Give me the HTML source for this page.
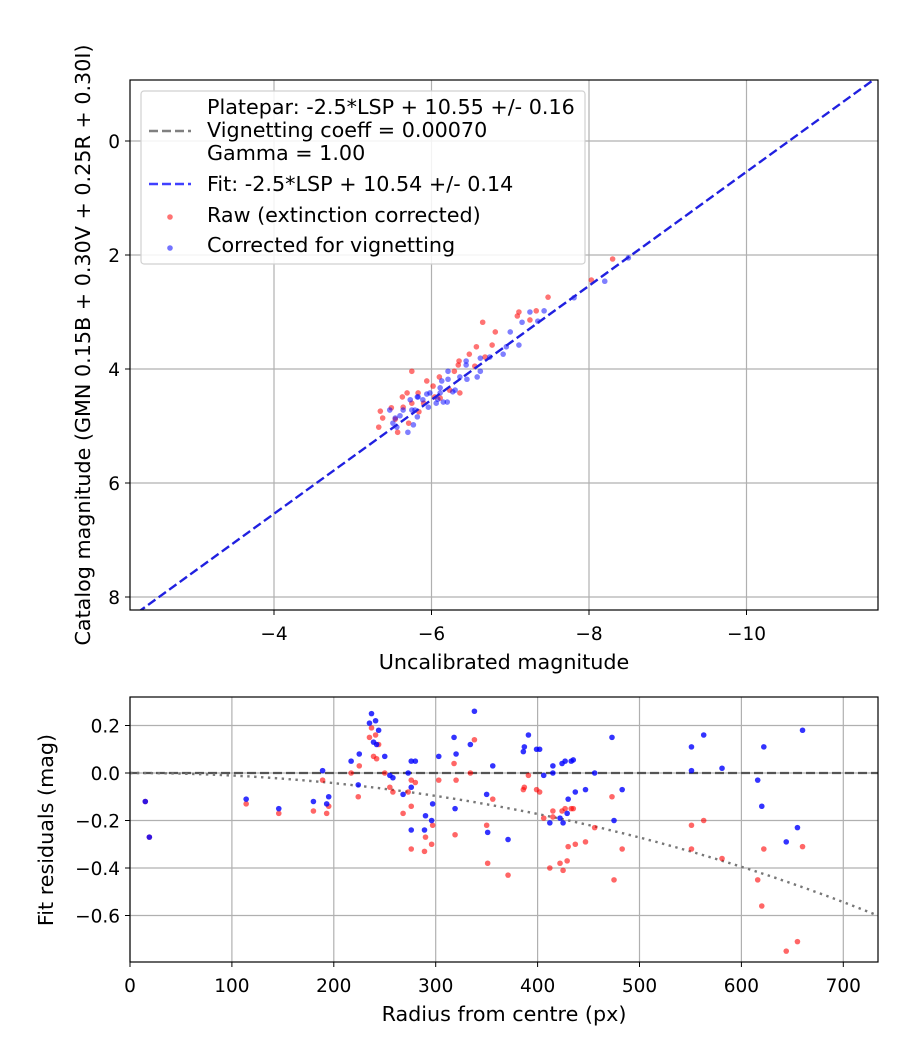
<!DOCTYPE html>
<html><head><meta charset="utf-8"><style>
body{margin:0;background:#fff}
svg{display:block;font-family:"DejaVu Sans","Liberation Sans",sans-serif}
</style></head><body>
<svg id="c" width="900" height="1050" viewBox="0 0 900 1050" xmlns="http://www.w3.org/2000/svg"></svg>
<script>
// ---- Top chart data ----
const topXTicks=[-4,-6,-8,-10];
const topYTicks=[0,2,4,6,8];
const fitOffset=10.54;
const rawX=[-8.30,-8.03,-7.48,-7.11,-7.09,-7.33,-7.25,-6.65,-6.81,-6.77,-6.57,-6.48,-6.35,-6.34,-6.55,-6.68,-6.29,-5.75,-5.94,-6.10,-5.63,-5.49,-5.35,-5.38,-5.33,-5.57,-5.71,-5.83,-6.02,-6.11,-6.23,-6.36,-5.54,-5.84,-5.75,-5.64,-6.04,-5.90,-5.69];
const rawY=[2.07,2.44,2.74,3.00,3.07,2.98,3.14,3.18,3.35,3.58,3.61,3.74,3.86,3.93,3.95,3.79,4.04,4.04,4.21,4.14,4.49,4.68,4.74,4.86,5.02,5.11,4.95,4.42,4.30,4.51,4.37,4.42,4.88,4.75,4.60,4.67,4.49,4.60,4.42];
const corX=[-8.50,-8.20,-7.81,-7.43,-7.25,-7.15,-7.35,-7.00,-7.11,-6.95,-6.91,-6.74,-6.62,-6.44,-6.44,-6.62,-6.58,-6.45,-6.36,-6.21,-6.21,-6.30,-6.13,-6.11,-6.20,-6.06,-5.94,-5.82,-5.73,-5.75,-5.64,-5.60,-5.77,-5.70,-5.54,-5.51,-5.96,-5.89,-6.08,-6.15,-6.27,-6.11,-5.79,-5.82,-5.47,-5.56,-5.98,-5.83];
const corY=[2.05,2.46,2.75,2.98,3.00,3.18,3.16,3.35,3.58,3.61,3.74,3.79,3.81,3.86,3.93,4.04,4.14,4.18,4.14,4.04,4.18,4.37,4.21,4.42,4.58,4.60,4.44,4.49,4.54,4.72,4.72,4.82,4.98,5.11,4.86,4.95,4.67,4.54,4.53,4.58,4.40,4.33,4.72,4.84,4.72,5.02,4.42,4.49];
// ---- Bottom chart data ----
const botXTicks=[0,100,200,300,400,500,600,700];
const botYTicks=[0.2,0.0,-0.2,-0.4,-0.6];
const botYLabels=["0.2","0.0","\u22120.2","\u22120.4","\u22120.6"];
const vignCoeff=0.0007;
const blueR=[15,19,114,146,180,189,195,193,217,225,224,237,235,241,244,239,242,250,255,258,273,276,280,276,268,276,289,290,296,297,303,319,318,320,334,338,356,350,351,371,391,387,386,399,402,406,415,415,424,427,433,435,430,437,447,456,412,422,425,429,473,483,475,551,563,551,581,616,620,622,644,655,660];
const blueRes=[-0.12,-0.27,-0.11,-0.15,-0.12,0.01,-0.10,-0.13,0.05,0.08,-0.05,0.25,0.21,0.22,0.18,0.13,0.12,0.07,-0.01,-0.02,0.00,0.05,0.05,-0.06,-0.09,-0.24,-0.24,-0.18,-0.20,-0.13,0.07,-0.15,0.15,0.08,0.12,0.26,0.03,-0.09,-0.25,-0.28,0.16,0.11,0.09,0.10,0.10,-0.01,0.03,0.00,0.04,0.05,0.05,0.055,-0.11,-0.08,-0.07,0.00,-0.21,-0.19,-0.21,-0.17,0.15,-0.07,-0.20,0.11,0.16,0.01,0.02,-0.03,-0.14,0.11,-0.29,-0.23,0.18];
const redR=[15,19,114,146,180,193,195,189,217,225,224,237,235,241,244,239,242,250,255,258,268,273,276,280,276,276,289,290,296,297,303,319,318,320,334,338,356,350,351,371,391,387,386,399,402,406,415,415,424,427,433,435,430,437,447,456,412,422,425,429,473,483,475,551,563,551,581,616,620,622,644,655,660];
const redRes=[-0.12,-0.27,-0.13,-0.17,-0.16,-0.17,-0.14,-0.03,0.00,0.03,-0.10,0.19,0.15,0.16,0.12,0.07,0.06,0.00,-0.06,-0.08,-0.17,-0.08,-0.03,-0.04,-0.14,-0.32,-0.33,-0.27,-0.30,-0.22,-0.03,-0.26,0.04,-0.03,0.00,0.14,-0.11,-0.22,-0.38,-0.43,-0.01,-0.06,-0.07,-0.07,-0.08,-0.19,-0.16,-0.185,-0.16,-0.15,-0.15,-0.15,-0.31,-0.30,-0.29,-0.23,-0.40,-0.38,-0.41,-0.37,-0.10,-0.32,-0.45,-0.22,-0.20,-0.32,-0.36,-0.45,-0.56,-0.32,-0.75,-0.71,-0.31];

const NS="http://www.w3.org/2000/svg";
const svg=document.getElementById('c');
function mk(tag,attrs,parent,text){const e=document.createElementNS(NS,tag);for(const k in attrs)e.setAttribute(k,attrs[k]);if(text!==undefined)e.textContent=text;(parent||svg).appendChild(e);return e;}

const T={l:130,r:878,t:80,b:610};
const tx=v=>274+(-4-v)*78.75;
const ty=v=>141+v*57;
const B={l:130,r:878,t:697,b:962};
const bx=v=>130+v*1.019;
const by=v=>773-v*237.5;
const TFS=18.5, LFS=20.7;

let defs=mk('defs',{});
let cp=mk('clipPath',{id:'cpT'},defs);mk('rect',{x:T.l,y:T.t,width:T.r-T.l,height:T.b-T.t},cp);
let cp2=mk('clipPath',{id:'cpB'},defs);mk('rect',{x:B.l,y:B.t,width:B.r-B.l,height:B.b-B.t},cp2);

let g=mk('g',{});


topXTicks.forEach(v=>{const x=tx(v);
 mk('line',{x1:x,y1:T.t,x2:x,y2:T.b,stroke:'#b0b0b0','stroke-width':1.2},g);
 mk('line',{x1:x,y1:T.b,x2:x,y2:T.b+5,stroke:'#000','stroke-width':1},g);
 const t=mk('text',{x:x,y:T.b+30,'text-anchor':'middle','font-size':TFS},svg,String(v).replace('-','\u2212'));
 
 
});
topYTicks.forEach(v=>{const y=ty(v);
 mk('line',{x1:T.l,y1:y,x2:T.r,y2:y,stroke:'#b0b0b0','stroke-width':1.2},g);
 mk('line',{x1:T.l-5,y1:y,x2:T.l,y2:y,stroke:'#000','stroke-width':1},g);
 const t=mk('text',{x:T.l-10,y:y+7,'text-anchor':'end','font-size':TFS},svg,String(v));
 
 
});
let gp=mk('g',{'clip-path':'url(#cpT)'});
rawX.forEach((v,i)=>{const c=mk('circle',{cx:tx(v),cy:ty(rawY[i]),r:2.8,fill:'#ff0000','fill-opacity':0.55},gp);
 
 });
corX.forEach((v,i)=>{const c=mk('circle',{cx:tx(v),cy:ty(corY[i]),r:2.8,fill:'#0000ff','fill-opacity':0.5},gp);
 
 });
const fx1=-2.0,fx2=-12.0;
const fl=mk('line',{x1:tx(fx1),y1:ty(fx1+fitOffset),x2:tx(fx2),y2:ty(fx2+fitOffset),stroke:'#2020e0','stroke-width':2.4,'stroke-dasharray':'9,4','clip-path':'url(#cpT)'});


const fr=mk('rect',{x:T.l,y:T.t,width:T.r-T.l,height:T.b-T.t,fill:'none',stroke:'#000','stroke-width':1.2});



const lg=mk('g',{});


mk('rect',{x:141,y:91,width:444,height:173,rx:3,fill:'#fff','fill-opacity':0.85,stroke:'#d0d0d0','stroke-width':1.2},lg);
const lt=[['Platepar: -2.5*LSP + 10.55 +/- 0.16',114],['Vignetting coeff = 0.00070',137],['Gamma = 1.00',160],['Fit: -2.5*LSP + 10.54 +/- 0.14',191],['Raw (extinction corrected)',222],['Corrected for vignetting',252]];
lt.forEach(a=>{const t=mk('text',{x:207,y:a[1],'font-size':LFS},lg,a[0]);
 
 });
mk('line',{x1:149,y1:131,x2:191,y2:131,stroke:'#808080','stroke-width':2.4,'stroke-dasharray':'9,4'},lg);
mk('line',{x1:149,y1:184,x2:191,y2:184,stroke:'#4040ff','stroke-width':2.4,'stroke-dasharray':'9,4'},lg);
mk('circle',{cx:170,cy:217,r:2.8,fill:'#ff0000','fill-opacity':0.55},lg);
mk('circle',{cx:170,cy:248,r:2.8,fill:'#0000ff','fill-opacity':0.55},lg);

let at=mk('text',{x:504,y:669,'text-anchor':'middle','font-size':LFS},svg,'Uncalibrated magnitude');


at=mk('text',{x:0,y:0,'text-anchor':'middle','font-size':LFS,transform:'translate(90,345) rotate(-90)'},svg,'Catalog magnitude (GMN 0.15B + 0.30V + 0.25R + 0.30I)');



let g2=mk('g',{});


botXTicks.forEach(v=>{const x=bx(v);
 mk('line',{x1:x,y1:B.t,x2:x,y2:B.b,stroke:'#b0b0b0','stroke-width':1.2},g2);
 mk('line',{x1:x,y1:B.b,x2:x,y2:B.b+5,stroke:'#000','stroke-width':1},g2);
 const t=mk('text',{x:x,y:B.b+30,'text-anchor':'middle','font-size':TFS},svg,String(v));
 
 });
botYTicks.forEach((v,i)=>{const y=by(v);
 mk('line',{x1:B.l,y1:y,x2:B.r,y2:y,stroke:'#b0b0b0','stroke-width':1.2},g2);
 mk('line',{x1:B.l-5,y1:y,x2:B.l,y2:y,stroke:'#000','stroke-width':1},g2);
 const t=mk('text',{x:B.l-10,y:y+7,'text-anchor':'end','font-size':TFS},svg,botYLabels[i]);
 
 });
const gb=mk('g',{'clip-path':'url(#cpB)'});
const zl=mk('line',{x1:B.l,y1:by(0),x2:B.r,y2:by(0),stroke:'#555','stroke-width':2.2,'stroke-dasharray':'9,4'},gb);


let d='';
for(let r=0;r<=740;r+=5){const c=Math.cos(vignCoeff*r);const m=2.5*Math.log10(Math.pow(c,4));d+=(r?'L':'M')+bx(r).toFixed(1)+','+by(m).toFixed(1);}
const vc=mk('path',{d:d,fill:'none',stroke:'#777','stroke-width':2.4,'stroke-dasharray':'2.4,4.5'},gb);


redR.forEach((v,i)=>{const c=mk('circle',{cx:bx(v),cy:by(redRes[i]),r:2.8,fill:'#ff0000','fill-opacity':0.6},gb);
 
 });
blueR.forEach((v,i)=>{const c=mk('circle',{cx:bx(v),cy:by(blueRes[i]),r:2.8,fill:'#0000ff','fill-opacity':0.8},gb);
 
 });
const fr2=mk('rect',{x:B.l,y:B.t,width:B.r-B.l,height:B.b-B.t,fill:'none',stroke:'#000','stroke-width':1.2});


at=mk('text',{x:504,y:1021,'text-anchor':'middle','font-size':LFS},svg,'Radius from centre (px)');


at=mk('text',{x:0,y:0,'text-anchor':'middle','font-size':LFS,transform:'translate(53,830) rotate(-90)'},svg,'Fit residuals (mag)');


</script>
</body></html>
